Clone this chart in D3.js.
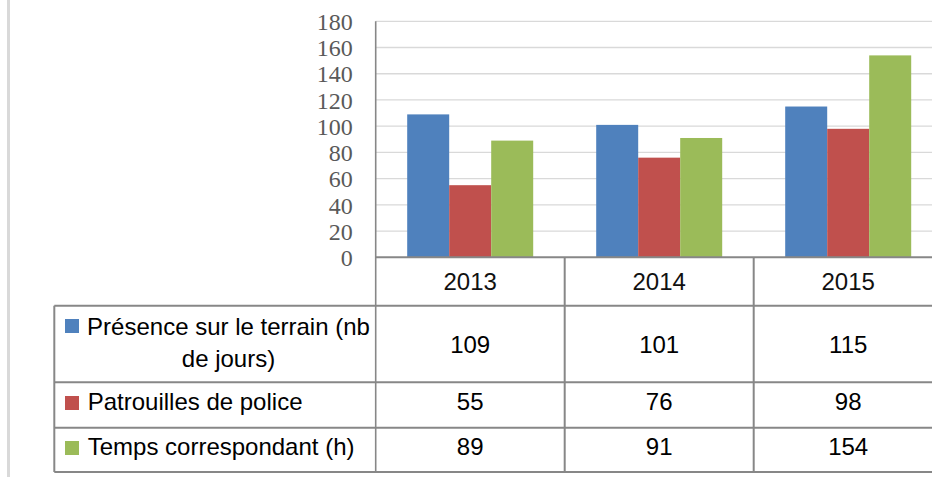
<!DOCTYPE html>
<html>
<head>
<meta charset="utf-8">
<script src="https://cdn.jsdelivr.net/npm/d3@7"></script>
<style>
  html, body { margin: 0; padding: 0; background: #fff; }
  svg { display: block; }
</style>
</head>
<body>
<svg id="chart" width="932" height="477"></svg>
<script>
const years = ["2013", "2014", "2015"];
const seriesNames = ["Présence sur le terrain (nb de jours)", "Patrouilles de police", "Temps correspondant (h)"];
const legendLines = [["Présence sur le terrain (nb", "de jours)"], ["Patrouilles de police"], ["Temps correspondant (h)"]];
const presence = [109, 101, 115];
const patrouilles = [55, 76, 98];
const temps = [89, 91, 154];
const yTicks = [0, 20, 40, 60, 80, 100, 120, 140, 160, 180];
const colors = ["#4f81bd", "#c0504d", "#9bbb59"];

const values = [presence, patrouilles, temps];
const svg = d3.select("#chart");
const W = 932, H = 477;

// left decorative strip
svg.append("rect").attr("x", 7).attr("y", 0).attr("width", 3).attr("height", H).attr("fill", "#d9d9d9");

const plotLeft = 375.7, catW = 189;
const x0 = d3.scaleBand().domain(years).range([plotLeft, plotLeft + catW * years.length]).paddingInner(0).paddingOuter(0);
const x1 = d3.scaleBand().domain(d3.range(seriesNames.length))
  .range([(catW - 126) / 2, (catW + 126) / 2]).padding(0);
const y = d3.scaleLinear().domain([0, 180]).range([257.3, 21.3]);

// gridlines
svg.append("g").selectAll("line").data(yTicks.filter(d => d > 0)).join("line")
  .attr("x1", plotLeft).attr("x2", W)
  .attr("y1", d => y(d)).attr("y2", d => y(d))
  .attr("stroke", "#d9d9d9").attr("stroke-width", 1.3);

// y tick labels
const yAxis = d3.axisLeft(y).tickValues(yTicks).tickSize(0).tickPadding(23);
const gy = svg.append("g").attr("transform", `translate(${plotLeft},0)`).call(yAxis);
gy.select(".domain").remove();
gy.selectAll("text").attr("font-family", "'Liberation Serif', 'DejaVu Serif', serif")
  .attr("font-size", 24).attr("fill", "#595959").attr("dy", "0.34em");

// bars
const g = svg.append("g");
years.forEach((yr, i) => {
  values.forEach((arr, s) => {
    g.append("rect")
      .attr("x", x0(yr) + x1(s))
      .attr("y", y(arr[i]))
      .attr("width", x1.bandwidth())
      .attr("height", y(0) - y(arr[i]))
      .attr("fill", colors[s]);
  });
});

// table lines
const lineColor = "#878787";
const rowTop = 305.7;
const rowLines = [305.7, 382.3, 427.7, 472];
const tableLeft = 54.3;
const lines = svg.append("g").attr("stroke", lineColor).attr("stroke-width", 2);
// axis line (top of header)
lines.append("line").attr("x1", plotLeft).attr("x2", W).attr("y1", y(0)).attr("y2", y(0));
// y axis line
lines.append("line").attr("x1", plotLeft).attr("x2", plotLeft).attr("y1", y(180)).attr("y2", 472).attr("stroke-width", 1.6);
// category separators
years.slice(1).forEach(yr => {
  lines.append("line").attr("x1", x0(yr)).attr("x2", x0(yr)).attr("y1", y(0)).attr("y2", 472);
});
rowLines.forEach(ry => {
  lines.append("line").attr("x1", tableLeft).attr("x2", W).attr("y1", ry).attr("y2", ry);
});
lines.append("line").attr("x1", tableLeft).attr("x2", tableLeft).attr("y1", rowTop).attr("y2", 472);

const sans = "'Liberation Sans', Arial, sans-serif";
// header years
svg.append("g").selectAll("text").data(years).join("text")
  .attr("x", d => x0(d) + x0.bandwidth() / 2)
  .attr("y", 290)
  .attr("text-anchor", "middle")
  .attr("font-family", sans).attr("font-size", 24).attr("fill", "#111")
  .text(d => d);

// data cells
const rowBaselines = [353.3, 410, 455];
values.forEach((arr, s) => {
  svg.append("g").selectAll("text").data(arr).join("text")
    .attr("x", (d, i) => x0(years[i]) + x0.bandwidth() / 2)
    .attr("y", rowBaselines[s])
    .attr("text-anchor", "middle")
    .attr("font-family", sans).attr("font-size", 24).attr("fill", "#000")
    .text(d => d);
});

// legend cells
const markerY = [319, 396, 441];
legendLines.forEach((ls, s) => {
  svg.append("rect").attr("x", 65).attr("y", markerY[s]).attr("width", 14).attr("height", 14).attr("fill", colors[s]);
  if (ls.length === 2) {
    svg.append("text").attr("x", 228.5).attr("y", 335).attr("text-anchor", "middle")
      .attr("font-family", sans).attr("font-size", 24).attr("fill", "#000").text(ls[0]);
    svg.append("text").attr("x", 228.5).attr("y", 366.7).attr("text-anchor", "middle")
      .attr("font-family", sans).attr("font-size", 24).attr("fill", "#000").text(ls[1]);
  } else {
    svg.append("text").attr("x", 87.7).attr("y", rowBaselines[s])
      .attr("font-family", sans).attr("font-size", 24).attr("fill", "#000").text(ls[0]);
  }
});
</script>
</body>
</html>
